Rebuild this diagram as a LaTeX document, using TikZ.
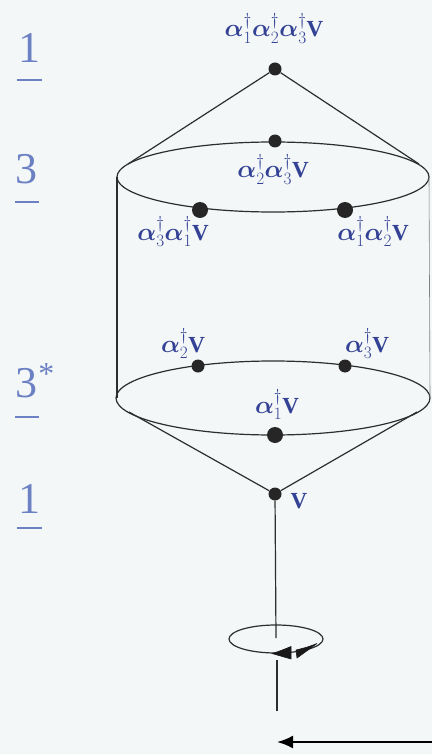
\documentclass[tikz,border=0pt]{standalone}
\usepackage{fontspec}
\setmainfont{Liberation Serif}
\usepackage{amsmath}
\usetikzlibrary{arrows.meta}
\definecolor{bgc}{RGB}{243,247,247}
\definecolor{lab}{RGB}{52,66,150}
\definecolor{num}{RGB}{108,128,196}
\definecolor{ln}{RGB}{45,45,45}
\tikzset{
  edge/.style={draw=ln,line width=1.2pt},
  dotbig/.style={circle,fill=black!85,inner sep=0pt,minimum size=16pt},
  dotsm/.style={circle,fill=black!85,inner sep=0pt,minimum size=13pt},
  lbl/.style={text=lab,inner sep=0pt,font=\fontsize{23}{27}\selectfont},
  numlbl/.style={text=num,inner sep=0pt,anchor=base,font=\fontsize{44}{44}\selectfont},
  uline/.style={draw=num,line width=2pt},
  headfill/.style={fill=black!90,draw=black!90,line width=0.6pt,line join=round}
}
\newcommand{\ad}[1]{\boldsymbol{\alpha}^{\dagger}_{#1}}
\begin{document}
\begin{tikzpicture}[x=1pt,y=-1pt]
\path[fill=bgc] (0,0) rectangle (432,754);
\useasboundingbox (0,0) rectangle (432,754);
% left numbers
\node[numlbl] (n1) at (29,63) {1};
\node[numlbl] (n3) at (27,183) {3};
\node[numlbl] (n3s) at (27,397) {3};
\node[numlbl,anchor=base west,font=\fontsize{32}{32}\selectfont] (star) at (n3s.base east) {\raisebox{13pt}{*}};
\node[numlbl] (n1b) at (29,513) {1};
\draw[uline] (17,80) -- (42,80);
\draw[uline] (15,202) -- (39,202);
\draw[uline] (15,417) -- (39,417);
\draw[uline] (17,528) -- (42,528);
% ellipses
\coordinate (uc) at (273,177);
\coordinate (lc) at (273,398);
\draw[edge] (uc) ellipse [x radius=156pt, y radius=35pt];
\draw[edge] (lc) ellipse [x radius=157pt, y radius=37pt];
\coordinate (ul) at (117,177);
\coordinate (ur) at (429,177);
\coordinate (ll) at (117,398);
\coordinate (lr) at (430,398);
\draw[edge] (ul) -- (ll);
\draw[edge,line width=0.6pt,draw=ln!60] (ur) -- (lr);
% dots
\node[dotsm] (top) at (275,69) {};
\node[dotsm] (d23) at (275,141) {};
\node[dotbig] (d31) at (200,210) {};
\node[dotbig] (d12) at (345,210) {};
\node[dotsm] (d2) at (198,366) {};
\node[dotsm] (d3) at (345,366) {};
\node[dotbig] (d1) at (275,435) {};
\node[dotsm] (v) at (275,494) {};
% cone lines
\coordinate (tl) at (128,164);
\coordinate (tr) at (419,164);
\coordinate (bl) at (129,412);
\coordinate (br) at (417,412);
\draw[edge] (tl) -- (top) -- (tr);
\draw[edge] (bl) -- (v) -- (br);
% labels
\node[lbl,anchor=base] (t123) at (274,37) {$\ad1\ad2\ad3\mathbf{V}$};
\node[lbl,anchor=base] (t23) at (273,178) {$\ad2\ad3\mathbf{V}$};
\node[lbl,anchor=base] (t31) at (173,240) {$\ad3\ad1\mathbf{V}$};
\node[lbl,anchor=base] (t12) at (373,240) {$\ad1\ad2\mathbf{V}$};
\node[lbl,anchor=base] (t2) at (183,352) {$\ad2\mathbf{V}$};
\node[lbl,anchor=base] (t3) at (367,352) {$\ad3\mathbf{V}$};
\node[lbl,anchor=base] (t1) at (277,413) {$\ad1\mathbf{V}$};
\node[lbl,anchor=base] (tv) at (299,508) {$\mathbf{V}$};
% axis and rotation
\coordinate (axm) at (276,638);
\coordinate (axs) at (277,660);
\coordinate (axe) at (277,711);
\draw[edge] (v) -- (axm);
\draw[edge] (axs) -- (axe);
\draw[edge] (276,639) ellipse [x radius=47pt, y radius=14pt];
% rotation arrowheads (pointing away from each other)
\path[headfill] (272,653.5) .. controls (280,651) .. (291,646.5) -- (291,659) .. controls (281,656) .. cycle;
\path[headfill] (317,643.5) .. controls (308,647) .. (296,650) -- (297,658) .. controls (307,651) .. cycle;
% bottom arrow
\coordinate (ba) at (432,742);
\coordinate (bb) at (277,742);
\draw[black,line width=2.2pt,-{Latex[length=16pt,width=13pt]}] (ba) -- (bb);
\end{tikzpicture}
\end{document}
